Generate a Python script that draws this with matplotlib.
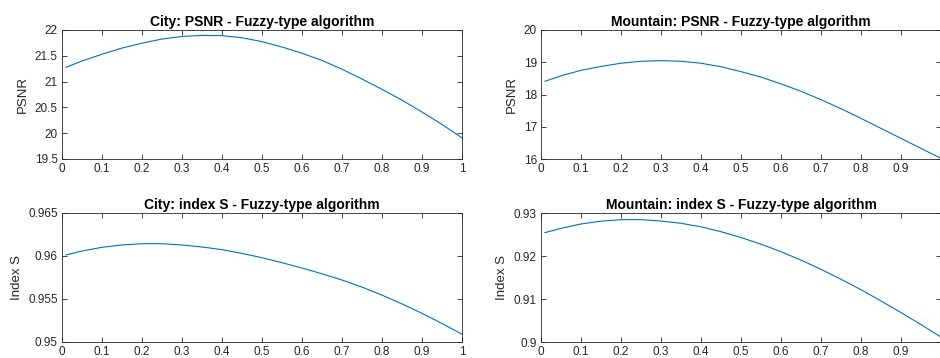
import matplotlib
matplotlib.use("Agg")
import matplotlib.pyplot as plt
from matplotlib.ticker import FuncFormatter, MultipleLocator

plt.rcParams['font.family'] = ['Liberation Sans', 'DejaVu Sans']

x = [0.01, 0.05, 0.1, 0.15, 0.2, 0.25, 0.3, 0.35, 0.4, 0.45, 0.5,
     0.55, 0.6, 0.65, 0.7, 0.75, 0.8, 0.85, 0.9, 0.95, 1.0]

city_psnr = [21.276, 21.40, 21.53, 21.65, 21.745, 21.825, 21.875, 21.895, 21.89, 21.85, 21.775,
             21.67, 21.55, 21.41, 21.24, 21.05, 20.85, 20.64, 20.41, 20.17, 19.91]
mountain_psnr = [18.41, 18.58, 18.75, 18.87, 18.97, 19.03, 19.05, 19.03, 18.97, 18.86, 18.71,
                 18.54, 18.33, 18.10, 17.84, 17.56, 17.26, 16.95, 16.64, 16.33, 16.02]
city_s = [0.96012, 0.96058, 0.96101, 0.96128, 0.96143, 0.96143, 0.96128, 0.96105, 0.96074, 0.96030, 0.95980,
          0.95922, 0.95860, 0.95793, 0.95721, 0.95638, 0.95545, 0.95443, 0.95333, 0.95215, 0.95090]
mountain_s = [0.92543, 0.92643, 0.92745, 0.92810, 0.92845, 0.92845, 0.92814, 0.92760, 0.92680, 0.92565, 0.92430,
              0.92275, 0.92100, 0.91905, 0.91690, 0.91460, 0.91215, 0.90955, 0.90685, 0.90405, 0.90115]

titles = ["City: PSNR - Fuzzy-type algorithm", "Mountain: PSNR - Fuzzy-type algorithm",
          "City: index S - Fuzzy-type algorithm", "Mountain: index S - Fuzzy-type algorithm"]
ylabels = ["PSNR", "PSNR", "Index S", "Index S"]
ylims = [(19.5, 22), (16, 20), (0.95, 0.965), (0.9, 0.93)]
ysteps = [0.5, 1, 0.005, 0.01]
series = [city_psnr, mountain_psnr, city_s, mountain_s]

W, H = 940, 358
fig = plt.figure(figsize=(9.4, 3.58), dpi=100)
positions = [(62, 30), (541, 30), (62, 213), (541, 213)]
aw, ah = 400, 129

fmt = FuncFormatter(lambda v, p: ("%g" % round(v, 6)))
dark = "#262626"

for i, (px, py) in enumerate(positions):
    ax = fig.add_axes([px / W, 1 - (py + ah) / H, aw / W, ah / H])
    ax.plot(x, series[i], color="#0072BD", lw=0.8)
    ax.set_xlim(0, 1)
    ax.set_ylim(*ylims[i])
    ax.xaxis.set_major_locator(MultipleLocator(0.1))
    ax.yaxis.set_major_locator(MultipleLocator(ysteps[i]))
    ax.xaxis.set_major_formatter(fmt)
    ax.yaxis.set_major_formatter(fmt)
    ax.tick_params(direction="in", top=True, right=True, length=3.5, width=0.6,
                   labelsize=8.5, colors=dark, pad=3)
    for s in ax.spines.values():
        s.set_color(dark)
        s.set_linewidth(0.6)
    ax.set_title(titles[i], fontsize=10, fontweight="bold", pad=3)
    ax.set_ylabel(ylabels[i], fontsize=9.5, color=dark, labelpad=4)

fig.savefig("out.png", dpi=100)
